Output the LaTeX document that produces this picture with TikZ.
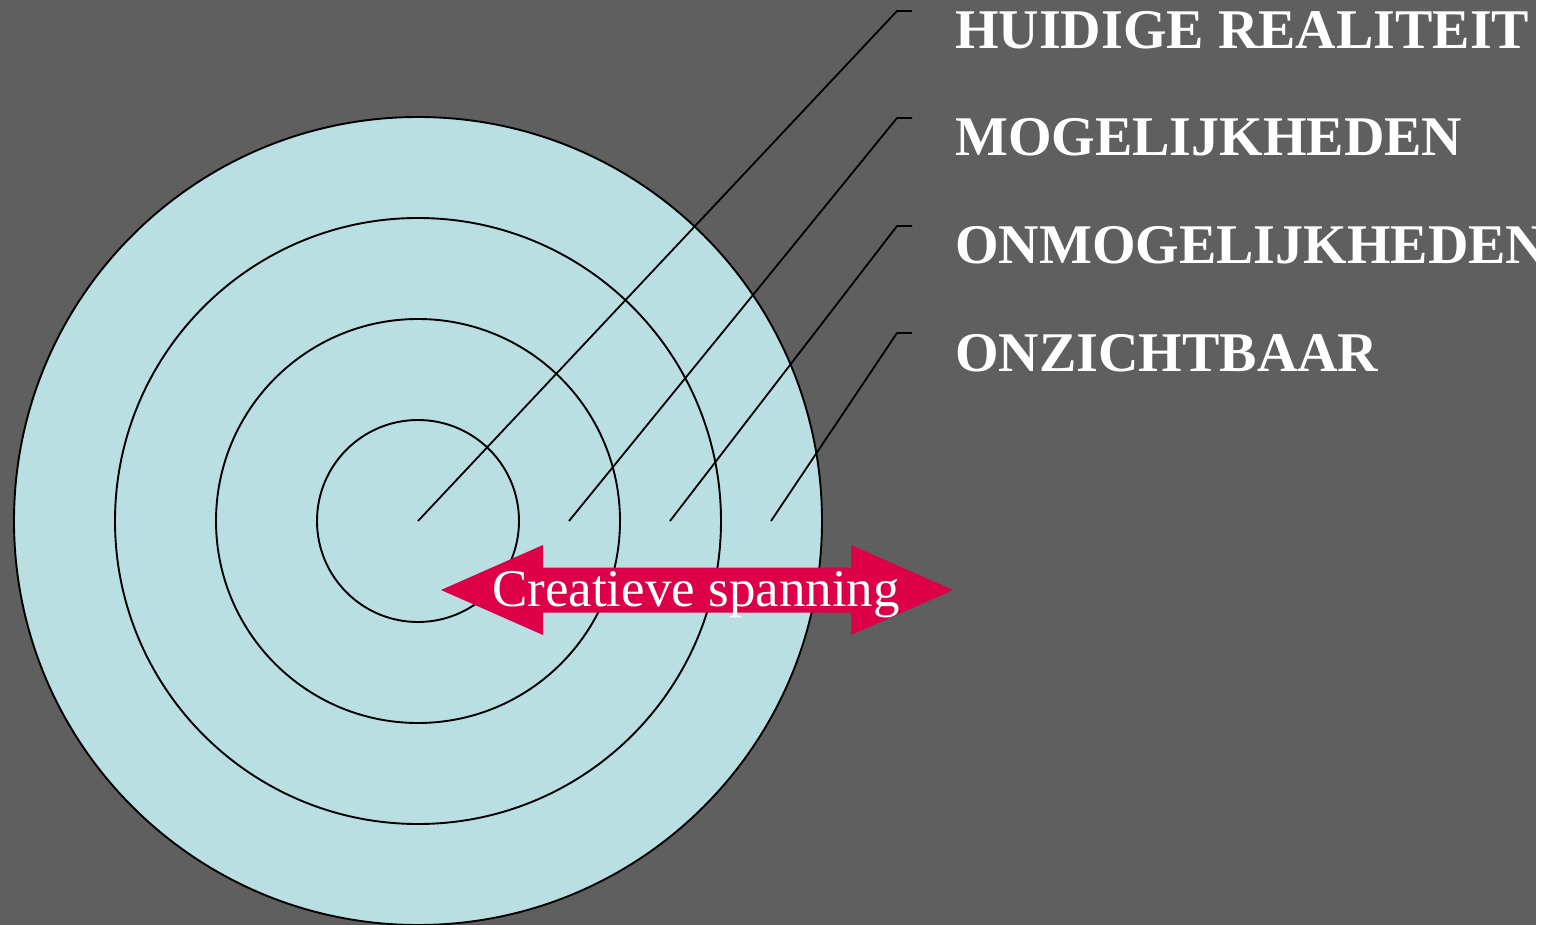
\documentclass[tikz,border=0pt]{standalone}
\usepackage{fontspec}
\setmainfont{Liberation Serif}
\definecolor{bggray}{RGB}{95,95,95}
\definecolor{ringblue}{RGB}{185,223,227}
\definecolor{arrowred}{RGB}{221,0,72}
\tikzset{
  ring/.style={draw=black, line width=1.9pt},
  leader/.style={draw=black, line width=1.8pt},
  heading/.style={anchor=base west, inner sep=0pt, text=white, font=\fontsize{56}{60}\selectfont\bfseries},
  arrowlabel/.style={anchor=base, inner sep=0pt, text=white, font=\fontsize{53}{56}\selectfont}
}
\begin{document}
\begin{tikzpicture}[x=1pt,y=-1pt]
\useasboundingbox (0,0) rectangle (1556,925);
\fill[white] (0,0) rectangle (1556,925);
\fill[bggray] (0,0) rectangle (1536,925);
\begin{scope}
\clip (0,0) rectangle (1556,925);
\coordinate (c) at (418,521);
\fill[ringblue] (c) circle[radius=404];
\draw[ring] (c) circle[radius=404];
\draw[ring] (c) circle[radius=303];
\draw[ring] (c) circle[radius=202];
\draw[ring] (c) circle[radius=101];
\end{scope}
% leader lines
\coordinate (s1) at (418,521);
\coordinate (s2) at (569,521);
\coordinate (s3) at (670,521);
\coordinate (s4) at (771,521);
\coordinate (k1) at (897,11);
\coordinate (k2) at (897,118);
\coordinate (k3) at (897,226);
\coordinate (k4) at (897,333);
\coordinate (e1) at (912,11);
\coordinate (e2) at (912,118);
\coordinate (e3) at (912,226);
\coordinate (e4) at (912,333);
\draw[leader] (s1) -- (k1) -- (e1);
\draw[leader] (s2) -- (k2) -- (e2);
\draw[leader] (s3) -- (k3) -- (e3);
\draw[leader] (s4) -- (k4) -- (e4);
% headings
\node[heading] (h1) at (955,48.5) {HUIDIGE REALITEIT};
\node[heading] (h2) at (955,156) {MOGELIJKHEDEN};
\node[heading] (h3) at (955,263.5) {ONMOGELIJKHEDEN};
\node[heading] (h4) at (955,371) {ONZICHTBAAR};
% double arrow
\fill[arrowred] (441,590) -- (543,545) -- (543,567.5) -- (851,567.5) -- (851,545)
  -- (953,590) -- (851,635) -- (851,612.5) -- (543,612.5) -- (543,635) -- cycle;
\node[arrowlabel] (tension) at (696,606) {Creatieve spanning};
\end{tikzpicture}
\end{document}
